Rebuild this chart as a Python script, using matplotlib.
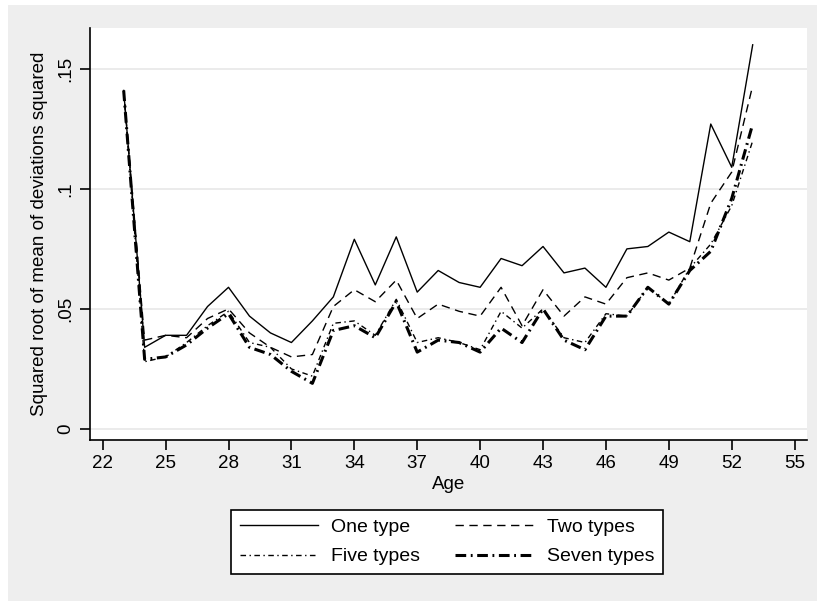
import matplotlib.pyplot as plt
from matplotlib.patches import Rectangle

plt.rcParams['font.family'] = ['Liberation Sans', 'DejaVu Sans']

# Root mean squared deviation by age for each model
ages = list(range(23, 54))

one_type = [0.141, 0.034, 0.039, 0.039, 0.051, 0.059, 0.047, 0.040, 0.036, 0.045, 0.055,
            0.079, 0.060, 0.080, 0.057, 0.066, 0.061, 0.059, 0.071, 0.068, 0.076,
            0.065, 0.067, 0.059, 0.075, 0.076, 0.082, 0.078, 0.127, 0.109, 0.160]
two_types = [0.141, 0.037, 0.039, 0.038, 0.046, 0.050, 0.040, 0.034, 0.030, 0.031, 0.051,
             0.058, 0.053, 0.062, 0.046, 0.052, 0.049, 0.047, 0.059, 0.043, 0.058,
             0.047, 0.055, 0.052, 0.063, 0.065, 0.062, 0.067, 0.094, 0.107, 0.143]
five_types = [0.141, 0.028, 0.030, 0.036, 0.043, 0.049, 0.036, 0.034, 0.025, 0.022, 0.044,
              0.045, 0.039, 0.054, 0.036, 0.038, 0.036, 0.033, 0.049, 0.042, 0.050,
              0.038, 0.036, 0.048, 0.047, 0.059, 0.052, 0.067, 0.077, 0.093, 0.120]
seven_types = [0.141, 0.029, 0.030, 0.035, 0.042, 0.048, 0.034, 0.031, 0.024, 0.019, 0.041,
               0.043, 0.038, 0.053, 0.032, 0.037, 0.036, 0.032, 0.042, 0.036, 0.050,
               0.037, 0.033, 0.047, 0.047, 0.059, 0.052, 0.066, 0.074, 0.096, 0.127]

x_ticks = list(range(22, 56, 3))
y_ticks = [0, 0.05, 0.1, 0.15]
y_tick_labels = ['0', '.05', '.1', '.15']

fig = plt.figure(figsize=(8.17, 6.01), dpi=100)
fig.patch.set_facecolor('white')
# gray graph region behind everything
fig.patches.append(Rectangle((8 / 817, 0), 1, 1 - 5 / 601, transform=fig.transFigure,
                             facecolor='#eeeeee', edgecolor='none', zorder=-5))

ax = fig.add_axes([90 / 817, 1 - 440 / 601, (807 - 90) / 817, (440 - 28) / 601])
ax.set_facecolor('white')

l1, = ax.plot(ages, one_type, color='black', lw=1.0, label='One type')
l2, = ax.plot(ages, two_types, color='black', lw=1.0, dashes=(6, 4), label='Two types')
l5, = ax.plot(ages, five_types, color='black', lw=1.0, dashes=(4, 2.5, 1, 2.5), label='Five types')
l7, = ax.plot(ages, seven_types, color='black', lw=2.2, dashes=(3.5, 1.5, 0.6, 1.5), label='Seven types')

ax.set_xlim(21.394, 55.59)
ax.set_ylim(-0.0046, 0.167)
ax.set_xticks(x_ticks)
ax.set_yticks(y_ticks)
ax.set_yticklabels(y_tick_labels, rotation=90, va='center')
ax.yaxis.grid(True, color='#e8e8e8', lw=1.2)
ax.set_axisbelow(True)

for side in ['top', 'right']:
    ax.spines[side].set_visible(False)
for side in ['left', 'bottom']:
    ax.spines[side].set_linewidth(1.2)
ax.tick_params(axis='both', direction='out', length=7, width=1.2, labelsize=13.5, pad=4)

ax.set_xlabel('Age', fontsize=13.5, labelpad=3)
ax.set_ylabel('Squared root of mean of deviations squared', fontsize=13.5, labelpad=7)

# legend filled row by row: One/Two on top, Five/Seven below
handles = [l1, l5, l2, l7]
leg = fig.legend(handles, [h.get_label() for h in handles],
                 loc='center', bbox_to_anchor=(447 / 817, 1 - 542 / 601), ncol=2,
                 fontsize=14, frameon=True, fancybox=False, edgecolor='black',
                 framealpha=1, facecolor='white',
                 handlelength=4.0, columnspacing=1.8, labelspacing=0.6,
                 borderpad=0.45, handletextpad=0.7)
leg.get_frame().set_linewidth(1.2)

fig.savefig('out.png', dpi=100, facecolor=fig.get_facecolor())
